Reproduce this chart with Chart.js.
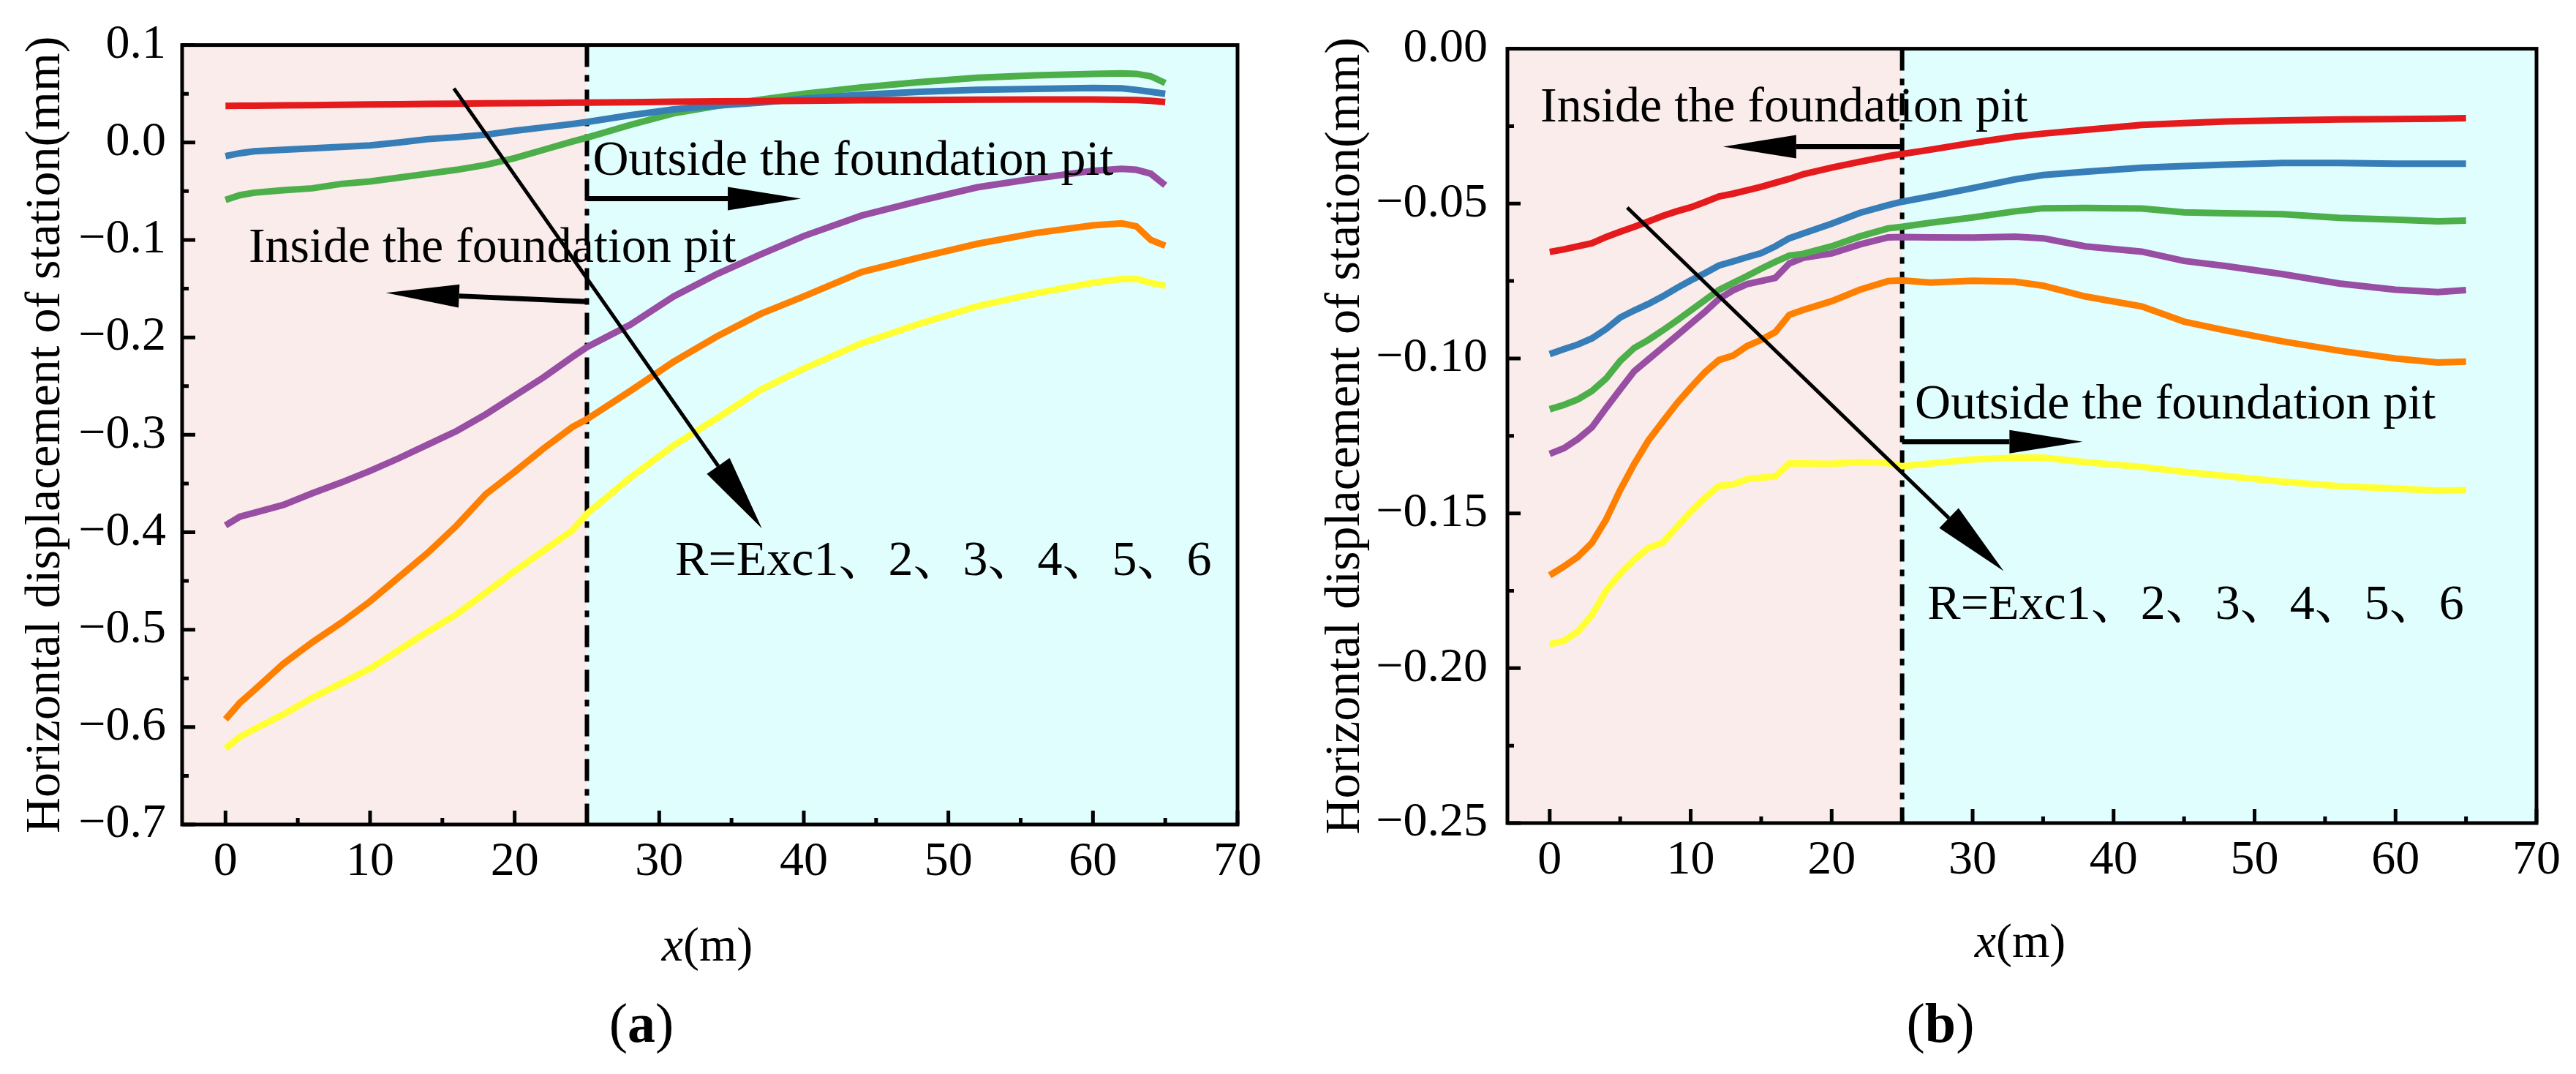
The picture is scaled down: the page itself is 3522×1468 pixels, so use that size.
<!DOCTYPE html>
<html>
<head>
<meta charset="utf-8">
<script src="https://cdn.jsdelivr.net/npm/chart.js@4.4.1/dist/chart.umd.min.js"></script>
<style>
  html, body { margin: 0; padding: 0; background: #fff; }
  #wrap { position: relative; width: 3522px; height: 1468px; }
  canvas { position: absolute; top: 0; }
  #chartA { left: 0; }
  #chartB { left: 1761px; }
</style>
</head>
<body>
<div id="wrap">
  <canvas id="chartA" width="1761" height="1468"></canvas>
  <canvas id="chartB" width="1761" height="1468"></canvas>
</div>
<script>
// ---- data ----
var xA = [0, 1, 2, 4, 6, 8, 10, 12, 14, 16, 18, 20, 22, 24, 25, 28, 31, 34, 37, 40, 44, 48, 52, 56, 60, 62, 63, 64, 65];
var aExc1 = [0.0375, 0.0377, 0.0378, 0.0381, 0.0384, 0.0387, 0.0390, 0.0393, 0.0396, 0.0399, 0.0402, 0.0404, 0.0406, 0.0409, 0.0410, 0.0414, 0.0418, 0.0422, 0.0425, 0.0429, 0.0433, 0.0436, 0.0439, 0.0441, 0.0442, 0.0438, 0.0435, 0.0428, 0.0415];
var aExc2 = [-0.014, -0.011, -0.009, -0.0075, -0.006, -0.0045, -0.003, 0.000, 0.0035, 0.0055, 0.008, 0.012, 0.0155, 0.019, 0.021, 0.028, 0.034, 0.038, 0.041, 0.045, 0.049, 0.052, 0.054, 0.055, 0.056, 0.0555, 0.054, 0.052, 0.050];
var aExc3 = [-0.059, -0.054, -0.0515, -0.049, -0.047, -0.0425, -0.040, -0.036, -0.032, -0.028, -0.023, -0.016, -0.0075, 0.001, 0.005, 0.018, 0.030, 0.0375, 0.044, 0.050, 0.0565, 0.062, 0.0665, 0.069, 0.0705, 0.071, 0.0705, 0.068, 0.061];
var aExc4 = [-0.393, -0.384, -0.380, -0.372, -0.360, -0.349, -0.337, -0.324, -0.310, -0.296, -0.279, -0.260, -0.241, -0.220, -0.210, -0.187, -0.158, -0.135, -0.115, -0.096, -0.075, -0.060, -0.046, -0.037, -0.029, -0.027, -0.028, -0.032, -0.044];
var aExc5 = [-0.592, -0.575, -0.562, -0.535, -0.513, -0.493, -0.471, -0.446, -0.421, -0.393, -0.361, -0.338, -0.314, -0.292, -0.284, -0.255, -0.225, -0.199, -0.176, -0.158, -0.133, -0.118, -0.104, -0.093, -0.085, -0.083, -0.086, -0.100, -0.106];
var aExc6 = [-0.622, -0.610, -0.602, -0.587, -0.570, -0.555, -0.540, -0.521, -0.502, -0.484, -0.462, -0.440, -0.419, -0.398, -0.381, -0.344, -0.311, -0.283, -0.254, -0.232, -0.206, -0.186, -0.168, -0.155, -0.144, -0.140, -0.140, -0.144, -0.147];

var xB = [0, 1, 2, 3, 4, 5, 6, 7, 8, 9, 10, 11, 12, 13, 14, 15, 16, 17, 18, 20, 22, 24, 25, 27, 30, 33, 35, 38, 42, 45, 48, 52, 56, 60, 63, 65];
var bExc1 = [-0.0656, -0.0648, -0.0638, -0.0628, -0.0608, -0.0591, -0.0575, -0.0558, -0.0540, -0.0525, -0.0512, -0.0495, -0.0477, -0.0468, -0.0457, -0.0446, -0.0433, -0.0420, -0.0405, -0.0384, -0.0365, -0.0347, -0.0340, -0.0326, -0.0304, -0.0284, -0.0274, -0.0262, -0.0246, -0.0240, -0.0235, -0.0231, -0.0228, -0.0227, -0.0226, -0.0224];
var bExc2 = [-0.0986, -0.0970, -0.0955, -0.0935, -0.0905, -0.0868, -0.0845, -0.0824, -0.0800, -0.0773, -0.0748, -0.0725, -0.0700, -0.0687, -0.0673, -0.0660, -0.0638, -0.0612, -0.0596, -0.0565, -0.0530, -0.0505, -0.0494, -0.0477, -0.0450, -0.0422, -0.0408, -0.0397, -0.0384, -0.0379, -0.0374, -0.0369, -0.0369, -0.0371, -0.0371, -0.0371];
var bExc3 = [-0.1164, -0.1150, -0.1132, -0.1105, -0.1065, -0.1008, -0.0966, -0.0940, -0.0910, -0.0878, -0.0845, -0.0812, -0.0779, -0.0756, -0.0734, -0.0710, -0.0688, -0.0668, -0.0662, -0.0638, -0.0606, -0.0580, -0.0575, -0.0562, -0.0545, -0.0525, -0.0515, -0.0514, -0.0516, -0.0528, -0.0531, -0.0534, -0.0546, -0.0552, -0.0557, -0.0555];
var bExc4 = [-0.1308, -0.1290, -0.1260, -0.1222, -0.1160, -0.1100, -0.1041, -0.1003, -0.0965, -0.0927, -0.0888, -0.0850, -0.0808, -0.0780, -0.0760, -0.0750, -0.0740, -0.0693, -0.0675, -0.0661, -0.0632, -0.0609, -0.0608, -0.0609, -0.0610, -0.0607, -0.0612, -0.0638, -0.0655, -0.0685, -0.0702, -0.0728, -0.0758, -0.0778, -0.0786, -0.0779];
var bExc5 = [-0.1700, -0.1672, -0.1640, -0.1595, -0.1520, -0.1425, -0.1340, -0.1265, -0.1205, -0.1146, -0.1094, -0.1045, -0.1005, -0.0991, -0.0960, -0.0940, -0.0915, -0.0859, -0.0843, -0.0815, -0.0778, -0.0750, -0.0748, -0.0755, -0.0749, -0.0752, -0.0765, -0.0800, -0.0832, -0.0881, -0.0910, -0.0945, -0.0975, -0.1000, -0.1013, -0.1010];
var bExc6 = [-0.1923, -0.1912, -0.1882, -0.1828, -0.1750, -0.1695, -0.1650, -0.1612, -0.1595, -0.1545, -0.1495, -0.1450, -0.1412, -0.1407, -0.1390, -0.1385, -0.1381, -0.1339, -0.1339, -0.1340, -0.1335, -0.1338, -0.1348, -0.1339, -0.1326, -0.1320, -0.1320, -0.1335, -0.1350, -0.1366, -0.1380, -0.1398, -0.1412, -0.1420, -0.1427, -0.1425];

var xTicks = [0, 10, 20, 30, 40, 50, 60, 70];
var yTicksA = [0.1, 0.0, -0.1, -0.2, -0.3, -0.4, -0.5, -0.6, -0.7];
var yTicksB = [0.00, -0.05, -0.10, -0.15, -0.20, -0.25];
var seriesColors = ['#e41a1c', '#377eb8', '#4daf4a', '#984ea3', '#ff7f00', '#ffff33'];
var pitEdge = 25;

var yTitle = 'Horizontal displacement of station(mm)';
var outsideLabel = 'Outside the foundation pit';
var insideLabel = 'Inside the foundation pit';
var stageLabel = 'R=Exc1\u30012\u30013\u30014\u30015\u30016';

var FONT = '"Liberation Serif", "Times New Roman", "Noto Serif CJK SC", "Noto Sans CJK SC", serif';
var insideColor = '#f9eceb';
var outsideColor = '#e1fefe';

// annotation anchors, in data units
var notesA = {
    diag: [[15.8, 0.0555], [37.1, -0.396]],
    outArrow: [[25, -0.0577], [39.8, -0.0577]],
    inArrow: [[25, -0.1633], [11.1, -0.1543]],
    outText: [25.4, -0.033],
    inText: [1.6, -0.1229],
    rText: [31.1, -0.4443]
};
var notesB = {
    diag: [[5.5, -0.0513], [32.2, -0.1686]],
    outArrow: [[25, -0.1269], [37.8, -0.1269]],
    inArrow: [[25, -0.0316], [12.3, -0.0316]],
    outText: [25.9, -0.1193],
    inText: [-0.66, -0.0234],
    rText: [26.8, -0.1841]
};

function arrow(ctx, x1, y1, x2, y2, head, half, w) {
    var ang = Math.atan2(y2 - y1, x2 - x1);
    var bx = x2 - head * Math.cos(ang), by = y2 - head * Math.sin(ang);
    ctx.lineWidth = w;
    ctx.beginPath();
    ctx.moveTo(x1, y1);
    ctx.lineTo(bx, by);
    ctx.stroke();
    ctx.beginPath();
    ctx.moveTo(x2, y2);
    ctx.lineTo(bx + half * Math.sin(ang), by - half * Math.cos(ang));
    ctx.lineTo(bx - half * Math.sin(ang), by + half * Math.cos(ang));
    ctx.closePath();
    ctx.fill();
}

function decorPlugin(p) {
    return {
        id: 'decor',
        beforeDatasetsDraw(chart) {
            var ctx = chart.ctx, a = chart.chartArea, x = chart.scales.x;
            var xd = x.getPixelForValue(pitEdge);
            ctx.save();
            ctx.fillStyle = insideColor;
            ctx.fillRect(a.left, a.top, xd - a.left, a.bottom - a.top);
            ctx.fillStyle = outsideColor;
            ctx.fillRect(xd, a.top, a.right - xd, a.bottom - a.top);
            ctx.strokeStyle = '#000';
            ctx.lineWidth = 6;
            ctx.setLineDash([30, 11, 9, 11]);
            ctx.beginPath();
            ctx.moveTo(xd, a.top);
            ctx.lineTo(xd, a.bottom);
            ctx.stroke();
            ctx.restore();
        },
        afterDatasetsDraw(chart) {
            var ctx = chart.ctx, a = chart.chartArea, x = chart.scales.x, y = chart.scales.y;
            var n = p.notes;
            function px(pt) { return [x.getPixelForValue(pt[0]), y.getPixelForValue(pt[1])]; }
            ctx.save();
            ctx.strokeStyle = '#000';
            ctx.fillStyle = '#000';

            var d0 = px(n.diag[0]), d1 = px(n.diag[1]);
            arrow(ctx, d0[0], d0[1], d1[0], d1[1], 104, 19, 5);
            var o0 = px(n.outArrow[0]), o1 = px(n.outArrow[1]);
            arrow(ctx, o0[0], o0[1], o1[0], o1[1], 100, 16, 7);
            var i0 = px(n.inArrow[0]), i1 = px(n.inArrow[1]);
            arrow(ctx, i0[0], i0[1], i1[0], i1[1], 100, 16, 7);

            ctx.font = '68px ' + FONT;
            ctx.textAlign = 'left';
            ctx.textBaseline = 'alphabetic';
            var t = px(n.outText);
            ctx.fillText(outsideLabel, t[0], t[1]);
            t = px(n.inText);
            ctx.fillText(insideLabel, t[0], t[1]);
            t = px(n.rText);
            ctx.fillText(stageLabel, t[0], t[1]);

            // inward ticks
            ctx.lineWidth = 5;
            ctx.beginPath();
            xTicks.forEach(function (v, i) {
                var xx = x.getPixelForValue(v);
                ctx.moveTo(xx, a.bottom);
                ctx.lineTo(xx, a.bottom - 19);
                if (i < xTicks.length - 1) {
                    var xm = x.getPixelForValue((v + xTicks[i + 1]) / 2);
                    ctx.moveTo(xm, a.bottom);
                    ctx.lineTo(xm, a.bottom - 9);
                }
            });
            p.yTicks.forEach(function (v, i) {
                var yy = y.getPixelForValue(v);
                ctx.moveTo(a.left, yy);
                ctx.lineTo(a.left + 18, yy);
                if (i < p.yTicks.length - 1) {
                    var ym = y.getPixelForValue((v + p.yTicks[i + 1]) / 2);
                    ctx.moveTo(a.left, ym);
                    ctx.lineTo(a.left + 9, ym);
                }
            });
            ctx.stroke();

            ctx.lineWidth = 5;
            ctx.strokeRect(a.left, a.top, a.right - a.left, a.bottom - a.top);
            ctx.restore();
        },
        afterDraw(chart) {
            var ctx = chart.ctx;
            ctx.save();
            ctx.fillStyle = '#000';
            ctx.textBaseline = 'middle';
            ctx.textAlign = 'left';
            // x(m) with italic x
            ctx.font = 'italic 66px ' + FONT;
            var w1 = ctx.measureText('x').width;
            ctx.font = '66px ' + FONT;
            var w2 = ctx.measureText('(m)').width;
            var sx = p.xTitlePos[0] - (w1 + w2) / 2;
            ctx.font = 'italic 66px ' + FONT;
            ctx.fillText('x', sx, p.xTitlePos[1]);
            ctx.font = '66px ' + FONT;
            ctx.fillText('(m)', sx + w1, p.xTitlePos[1]);
            // panel tag with bold letter
            ctx.font = '76px ' + FONT;
            var wp = ctx.measureText('(').width;
            var wq = ctx.measureText(')').width;
            ctx.font = 'bold 76px ' + FONT;
            var wl = ctx.measureText(p.tag).width;
            var tx = p.tagPos[0] - (wp + wl + wq) / 2;
            ctx.font = '76px ' + FONT;
            ctx.fillText('(', tx, p.tagPos[1]);
            ctx.font = 'bold 76px ' + FONT;
            ctx.fillText(p.tag, tx + wp, p.tagPos[1]);
            ctx.font = '76px ' + FONT;
            ctx.fillText(')', tx + wp + wl, p.tagPos[1]);
            ctx.restore();
        }
    };
}

function makePanel(p) {
    var datasets = p.series.map(function (ys, k) {
        return {
            data: p.xs.map(function (xv, i) { return { x: xv, y: ys[i] }; }),
            borderColor: seriesColors[k],
            backgroundColor: seriesColors[k],
            borderWidth: 9,
            pointRadius: 0,
            tension: 0,
            fill: false
        };
    });
    return new Chart(document.getElementById(p.id), {
        type: 'line',
        data: { datasets: datasets },
        options: {
            responsive: false,
            animation: false,
            devicePixelRatio: 1,
            layout: { padding: { left: 0, right: p.rightPad, top: p.topPad, bottom: 0 } },
            plugins: { legend: { display: false }, tooltip: { enabled: false } },
            scales: {
                x: {
                    type: 'linear',
                    min: -3,
                    max: 70,
                    grid: { display: false, drawTicks: false },
                    border: { display: false },
                    afterBuildTicks: function (s) { s.ticks = xTicks.map(function (v) { return { value: v }; }); },
                    afterFit: function (s) { s.height = p.xAxisH; },
                    ticks: {
                        font: { family: FONT, size: 66 },
                        color: '#000',
                        padding: 12,
                        maxRotation: 0,
                        autoSkip: false
                    }
                },
                y: {
                    type: 'linear',
                    min: p.yMin,
                    max: p.yMax,
                    grid: { display: false, drawTicks: false },
                    border: { display: false },
                    afterBuildTicks: function (s) { s.ticks = p.yTicks.map(function (v) { return { value: v }; }); },
                    afterFit: function (s) { s.width = p.axisW; },
                    ticks: {
                        font: { family: FONT, size: 66 },
                        color: '#000',
                        padding: p.labelPad,
                        autoSkip: false,
                        callback: function (v) { return Number(v).toFixed(p.dec).replace('-', '\u2212'); }
                    },
                    title: {
                        display: true,
                        text: yTitle,
                        color: '#000',
                        font: { family: FONT, size: 68, lineHeight: 1 },
                        padding: { top: p.titlePad, bottom: 0 }
                    }
                }
            }
        },
        plugins: [decorPlugin(p)]
    });
}

makePanel({
    id: 'chartA', xs: xA, series: [aExc1, aExc2, aExc3, aExc4, aExc5, aExc6],
    yMin: -0.7, yMax: 0.1, yTicks: yTicksA, dec: 1,
    axisW: 249, rightPad: 69, topPad: 58, xAxisH: 341, labelPad: 22, titlePad: 29,
    xTitlePos: [967, 1296], tag: 'a', tagPos: [877, 1404], notes: notesA
});
makePanel({
    id: 'chartB', xs: xB, series: [bExc1, bExc2, bExc3, bExc4, bExc5, bExc6],
    yMin: -0.25, yMax: 0, yTicks: yTicksB, dec: 2,
    axisW: 300, rightPad: 54, topPad: 59, xAxisH: 343, labelPad: 27, titlePad: 45,
    xTitlePos: [1001, 1291], tag: 'b', tagPos: [892, 1404], notes: notesB
});
</script>
</body>
</html>
